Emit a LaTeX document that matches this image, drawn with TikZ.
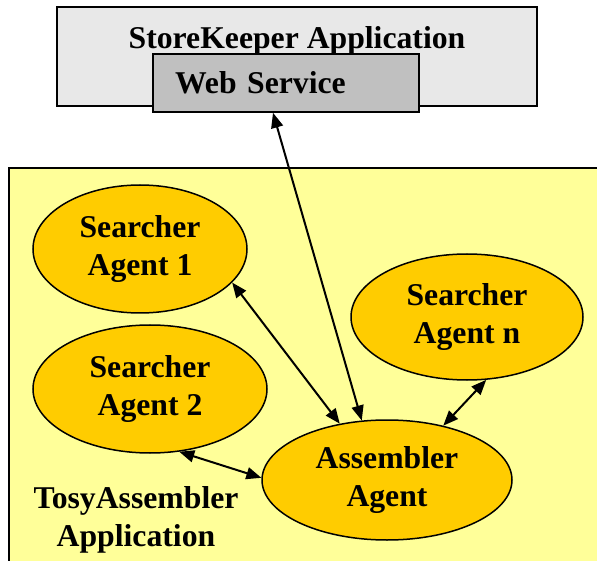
\documentclass[tikz,border=0pt]{standalone}
\usepackage{fontspec}
\setmainfont{Liberation Serif}
\usepackage{tikz}
\usetikzlibrary{shapes,arrows.meta,positioning,calc}

\definecolor{storegray}{HTML}{E8E8E8}
\definecolor{servicegray}{HTML}{C0C0C0}
\definecolor{appyellow}{HTML}{FFFF99}
\definecolor{agentorange}{HTML}{FFCC00}

\begin{document}
\begin{tikzpicture}[x=1pt, y=-1pt, >={Triangle[length=15pt,width=12pt]},
        font=\fontsize{31.7}{38}\selectfont\bfseries,
        appbox/.style={draw, rectangle, line width=1.6pt},
        agent/.style={draw, ellipse, fill=agentorange, line width=1.5pt, inner sep=0pt, align=center},
        link/.style={<->, line width=2pt}]
        \useasboundingbox (0,0) rectangle (597,561);
        \clip (0,0) rectangle (597,561);

        % StoreKeeper side
        \node (store) at (297,56.5) [appbox, fill=storegray, minimum width=480pt, minimum height=99pt] {};
        \node (storetitle) at (297,49) [anchor=base] {StoreKeeper Application};
        \node (ws) at (286,83) [appbox, fill=servicegray, minimum width=266pt, minimum height=58pt, inner xsep=22pt, text width=222pt, align=left] {Web Service};

        % TosyAssembler side (box runs off the page)
        \draw[line width=1.6pt, fill=appyellow] (9,168) rectangle (640,620);
        \node (tosy) at (136,520) [align=center] {TosyAssembler\\ Application};

        % Agents
        \node (s1) at (140,249) [agent, minimum width=214pt, minimum height=128pt] {Searcher\\ Agent 1};
        \node (s2) at (150,389) [agent, minimum width=234pt, minimum height=128pt] {Searcher\\ Agent 2};
        \node (sn) at (467,317) [agent, minimum width=232pt, minimum height=126pt] {Searcher\\ Agent n};
        \node (asm) at (387,480) [agent, minimum width=250pt, minimum height=120pt] {Assembler\\ Agent};

        % Arrows
        \draw[link] ([xshift=-13pt]ws.south) -- (asm.113);
        \draw[link] (s1.-20) -- (asm.130);
        \draw[link] (s2.-65) -- (asm.179);
        \draw[link] (sn.-73) -- (asm.44);
\end{tikzpicture}
\end{document}
